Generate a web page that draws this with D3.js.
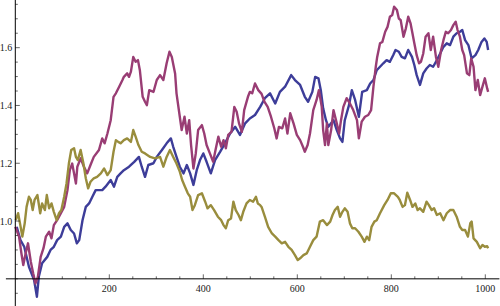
<!DOCTYPE html>
<html><head><meta charset="utf-8">
<script src="https://cdn.jsdelivr.net/npm/d3@7"></script>
<style>html,body{margin:0;padding:0;background:#fff;}svg{display:block;}</style>
</head><body>
<svg id="c" width="500" height="306"></svg>
<script>
// Series data: [x, value]
const blueSeries = [[3,0.980],[11,0.934],[19,0.911],[29,0.842],[40,0.796],[46,0.738],[50,0.807],[57,0.854],[68,0.876],[75,0.900],[82,0.911],[89,0.934],[97,0.946],[104,0.980],[111,0.992],[118,0.969],[125,0.957],[131,0.923],[136,0.934],[143,1.003],[150,1.049],[157,1.061],[164,1.084],[171,1.107],[178,1.107],[185,1.107],[192,1.119],[203,1.142],[210,1.119],[217,1.153],[224,1.165],[231,1.176],[242,1.188],[253,1.205],[263,1.222],[269,1.188],[276,1.153],[283,1.194],[294,1.200],[301,1.222],[312,1.246],[322,1.269],[331,1.286],[336,1.257],[343,1.222],[350,1.188],[358,1.165],[365,1.194],[372,1.165],[379,1.125],[386,1.176],[393,1.211],[400,1.234],[407,1.205],[416,1.165],[425,1.211],[436,1.240],[446,1.269],[457,1.303],[468,1.326],[478,1.298],[489,1.338],[499,1.355],[510,1.367],[521,1.395],[531,1.425],[542,1.442],[553,1.407],[563,1.447],[574,1.465],[587,1.505],[595,1.488],[606,1.471],[616,1.430],[623,1.413],[632,1.447],[638,1.499],[645,1.494],[650,1.453],[655,1.390],[661,1.349],[666,1.326],[677,1.349],[684,1.315],[691,1.286],[696,1.274],[701,1.349],[710,1.401],[716,1.453],[723,1.419],[731,1.361],[738,1.447],[748,1.453],[755,1.476],[762,1.488],[769,1.522],[776,1.534],[783,1.546],[790,1.557],[797,1.551],[804,1.574],[809,1.592],[816,1.586],[822,1.568],[829,1.563],[836,1.592],[844,1.568],[849,1.540],[854,1.505],[861,1.471],[868,1.511],[875,1.528],[882,1.540],[889,1.534],[897,1.557],[904,1.580],[911,1.603],[918,1.615],[925,1.609],[932,1.638],[939,1.650],[946,1.655],[951,1.661],[957,1.626],[964,1.609],[971,1.563],[979,1.574],[985,1.592],[992,1.620],[998,1.632],[1003,1.620],[1006,1.592]];

const magentaSeries = [[0,0.980],[8,0.946],[13,0.888],[17,0.848],[22,0.888],[27,0.923],[33,0.859],[38,0.819],[43,0.784],[48,0.807],[54,0.876],[60,0.906],[65,0.946],[72,0.963],[77,0.940],[82,0.986],[89,1.003],[97,1.027],[104,1.049],[111,1.107],[116,1.176],[121,1.199],[125,1.165],[129,1.130],[132,1.188],[139,1.217],[146,1.188],[153,1.165],[160,1.194],[167,1.222],[178,1.246],[185,1.286],[190,1.269],[196,1.303],[203,1.349],[209,1.430],[214,1.442],[221,1.465],[228,1.488],[231,1.499],[238,1.511],[242,1.499],[246,1.517],[251,1.568],[256,1.551],[261,1.557],[265,1.522],[271,1.430],[276,1.413],[280,1.401],[285,1.453],[294,1.447],[301,1.488],[308,1.505],[315,1.488],[322,1.546],[328,1.586],[333,1.568],[340,1.511],[343,1.442],[350,1.361],[354,1.315],[360,1.361],[365,1.303],[370,1.349],[374,1.263],[379,1.182],[384,1.234],[389,1.315],[397,1.332],[402,1.303],[407,1.263],[414,1.234],[421,1.205],[426,1.246],[432,1.292],[438,1.257],[443,1.280],[448,1.252],[453,1.298],[460,1.309],[466,1.395],[471,1.378],[476,1.338],[482,1.309],[487,1.384],[495,1.430],[499,1.447],[504,1.442],[510,1.476],[517,1.453],[524,1.440],[530,1.413],[537,1.395],[544,1.361],[551,1.321],[556,1.286],[561,1.326],[568,1.321],[574,1.355],[579,1.303],[585,1.373],[592,1.338],[599,1.298],[606,1.280],[612,1.257],[616,1.240],[622,1.263],[627,1.303],[634,1.384],[641,1.419],[646,1.453],[652,1.395],[655,1.315],[659,1.263],[663,1.338],[666,1.263],[672,1.315],[677,1.384],[684,1.338],[689,1.303],[693,1.349],[698,1.395],[705,1.425],[712,1.407],[719,1.384],[727,1.349],[731,1.286],[737,1.344],[744,1.361],[751,1.367],[757,1.384],[762,1.465],[767,1.534],[770,1.568],[776,1.615],[781,1.620],[787,1.655],[792,1.672],[797,1.707],[802,1.713],[806,1.742],[812,1.730],[816,1.701],[820,1.695],[826,1.638],[831,1.667],[836,1.707],[841,1.684],[845,1.650],[849,1.615],[854,1.574],[859,1.546],[863,1.551],[868,1.580],[873,1.638],[879,1.650],[884,1.592],[889,1.638],[895,1.568],[900,1.534],[906,1.592],[911,1.626],[916,1.655],[921,1.650],[927,1.661],[932,1.678],[937,1.690],[941,1.661],[946,1.638],[951,1.592],[955,1.574],[961,1.511],[966,1.505],[970,1.563],[975,1.534],[979,1.453],[984,1.488],[989,1.436],[994,1.465],[999,1.494],[1004,1.459],[1006,1.447]];

const oliveSeries = [[1,1.003],[6,1.027],[10,0.992],[15,0.946],[20,0.992],[24,1.049],[29,1.084],[33,1.073],[37,1.038],[41,1.073],[47,1.090],[53,1.027],[57,1.061],[63,1.038],[67,1.090],[72,1.044],[77,1.061],[82,1.032],[88,1.003],[93,1.027],[98,1.038],[104,1.084],[109,1.130],[114,1.199],[119,1.246],[125,1.252],[129,1.222],[133,1.211],[139,1.246],[145,1.199],[150,1.148],[155,1.113],[160,1.136],[167,1.148],[174,1.153],[182,1.165],[189,1.182],[196,1.159],[203,1.176],[209,1.240],[214,1.280],[219,1.274],[224,1.269],[231,1.280],[238,1.286],[246,1.274],[251,1.315],[256,1.292],[262,1.263],[269,1.240],[276,1.234],[287,1.222],[297,1.217],[308,1.222],[315,1.188],[322,1.222],[329,1.246],[336,1.222],[343,1.199],[350,1.171],[355,1.142],[361,1.119],[367,1.096],[372,1.084],[377,1.038],[382,1.055],[389,1.090],[397,1.096],[404,1.067],[409,1.044],[416,1.055],[423,1.038],[431,1.015],[438,1.003],[443,0.986],[448,0.975],[453,1.003],[459,1.009],[464,1.067],[469,1.038],[475,1.021],[480,1.003],[485,1.032],[492,1.061],[499,1.073],[506,1.067],[512,1.084],[516,1.061],[521,1.055],[524,1.049],[531,1.015],[538,0.980],[546,0.957],[553,0.946],[560,0.934],[567,0.923],[574,0.928],[581,0.911],[588,0.900],[595,0.882],[601,0.865],[606,0.871],[613,0.882],[620,0.888],[627,0.911],[634,0.934],[641,0.946],[648,0.998],[655,1.003],[663,0.986],[670,0.998],[675,1.021],[680,1.038],[686,1.049],[691,1.015],[696,1.032],[701,1.044],[707,1.032],[712,0.992],[717,0.975],[723,0.975],[730,0.963],[737,0.946],[743,0.928],[748,0.946],[753,0.934],[758,0.980],[764,0.998],[769,1.003],[776,1.027],[785,1.055],[792,1.073],[799,1.096],[806,1.096],[814,1.084],[818,1.073],[824,1.049],[829,1.055],[834,1.098],[840,1.073],[845,1.049],[851,1.061],[856,1.038],[861,1.044],[868,1.032],[875,1.067],[880,1.055],[886,1.038],[891,1.044],[897,1.021],[904,1.027],[911,1.003],[918,1.027],[925,1.038],[932,1.038],[939,1.015],[946,0.980],[951,0.969],[957,0.969],[963,0.946],[968,0.992],[971,0.998],[975,0.940],[982,0.928],[989,0.906],[994,0.917],[999,0.911],[1004,0.913],[1006,0.906]];

const xMajorTicks = [200, 400, 600, 800, 1000];
const xTickLabels = ["200", "400", "600", "800", "1000"];
const yMajorTicks = [1.0, 1.2, 1.4, 1.6];
const yTickLabels = ["1.0", "1.2", "1.4", "1.6"];

const svg = d3.select("#c");
const x = d3.scaleLinear().domain([-20, 1030]).range([5.9, 499.4]);
const y = d3.scaleLinear().domain([0.706, 1.765]).range([306, 0]);
const x0 = x(0), y0 = y(0.8);

const series = [
  {data: blueSeries, color: "rgb(61,61,153)"},
  {data: magentaSeries, color: "rgb(153,61,116)"},
  {data: oliveSeries, color: "rgb(153,141,61)"}
];
const line = d3.line().x(d => x(d[0])).y(d => y(d[1]));
series.forEach(s => {
  svg.append("path").attr("d", line(s.data)).attr("fill", "none")
    .attr("stroke", s.color).attr("stroke-width", 2.4)
    .attr("stroke-linejoin", "round");
});

// Axes (Mathematica style, ticks pointing inward)
const axisColor = "#000";
const gx = svg.append("g").attr("transform", `translate(0,${y0})`);
gx.append("line").attr("x1", x(-20)).attr("x2", x(1030)).attr("stroke", axisColor).attr("stroke-width", 1);
const xMinor = d3.range(50, 1001, 50).filter(v => !xMajorTicks.includes(v));
xMinor.forEach(v => gx.append("line").attr("x1", x(v)).attr("x2", x(v)).attr("y1", 0).attr("y2", -2.5).attr("stroke", axisColor).attr("stroke-width", 0.6));
xMajorTicks.forEach((v, i) => {
  gx.append("line").attr("x1", x(v)).attr("x2", x(v)).attr("y1", 0).attr("y2", -4.5).attr("stroke", axisColor).attr("stroke-width", 0.6);
  gx.append("text").attr("x", x(v)).attr("y", 13).attr("text-anchor", "middle")
    .attr("font-family", "Liberation Serif, Times New Roman, serif").attr("font-size", 10).attr("fill", "#1a1a1a").text(xTickLabels[i]);
});
const gy = svg.append("g").attr("transform", `translate(${x0},0)`);
gy.append("line").attr("y1", 0).attr("y2", 306).attr("stroke", axisColor).attr("stroke-width", 1);
const yMinor = d3.range(0.75, 1.76, 0.05).filter(v => !yMajorTicks.some(m => Math.abs(m - v) < 1e-6));
yMinor.forEach(v => gy.append("line").attr("x1", 0).attr("x2", 2.5).attr("y1", y(v)).attr("y2", y(v)).attr("stroke", axisColor).attr("stroke-width", 0.6));
yMajorTicks.forEach((v, i) => {
  gy.append("line").attr("x1", 0).attr("x2", 4.5).attr("y1", y(v)).attr("y2", y(v)).attr("stroke", axisColor).attr("stroke-width", 0.6);
  gy.append("text").attr("x", -3).attr("y", y(v) + 3.5).attr("text-anchor", "end")
    .attr("font-family", "Liberation Serif, Times New Roman, serif").attr("font-size", 10).attr("fill", "#1a1a1a").text(yTickLabels[i]);
});
</script>
</body></html>
